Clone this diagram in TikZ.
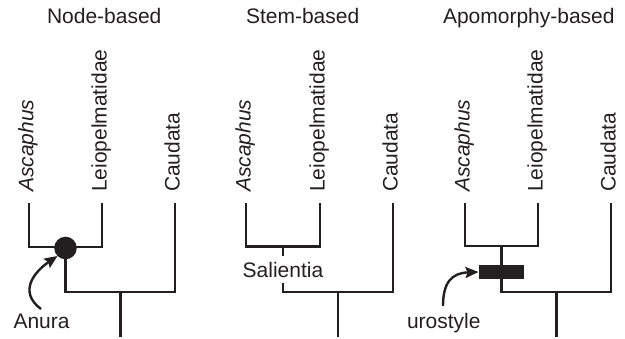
\documentclass[tikz,border=0pt]{standalone}
\usepackage{fontspec}
\setmainfont{Liberation Sans}
\usetikzlibrary{arrows.meta}
\definecolor{ink}{HTML}{231F20}
\begin{document}
\begin{tikzpicture}[x=1pt,y=-1pt,
  every node/.style={inner sep=0pt,outer sep=0pt,font=\fontsize{21}{25}\selectfont,text=ink},
  branch/.style={draw=ink,line width=2.7pt,line join=miter},
  taxon/.style={rotate=90,anchor=base west},
  titletext/.style={anchor=base west},
  pointer/.style={draw=ink,line width=2.4pt,-{Stealth[length=13pt,width=11pt,inset=2pt]}}]
\useasboundingbox (0,0) rectangle (625,339);
% titles
\node[titletext] (t1) at (47,24) {Node-based};
\node[titletext] (t2) at (246,24) {Stem-based};
\node[titletext] (t3) at (443,24) {Apomorphy-based};
% ---------- panel 1 ----------
\node[taxon] (asc1) at (33.5,192) {\itshape Ascaphus};
\node[taxon] (lei1) at (106.5,192) {Leiopelmatidae};
\node[taxon] (cau1) at (179.5,192) {Caudata};
\coordinate (a1t) at (29,203); \coordinate (a1b) at (29,247);
\coordinate (l1t) at (102,203); \coordinate (l1b) at (102,247);
\coordinate (n1) at (65.5,247); \coordinate (n1b) at (65.5,292);
\coordinate (c1t) at (175,203); \coordinate (c1b) at (175,292);
\coordinate (r1t) at (120.5,292); \coordinate (r1b) at (120.5,337);
\draw[branch] (a1t) -- (a1b) -- (l1b) -- (l1t);
\draw[branch] (n1) -- (n1b) -- (c1b) -- (c1t);
\draw[branch] (r1t) -- (r1b);
\node[circle,fill=ink,minimum size=22.6pt] (dot) at (65.5,248) {};
\node[anchor=base west] (anura) at (13.5,329) {Anura};
\coordinate (arr1) at (41,309);
\draw[pointer] (arr1) .. controls (18,292) and (34,272) .. (dot.south west);
% ---------- panel 2 ----------
\node[taxon] (asc2) at (250.5,192) {\itshape Ascaphus};
\node[taxon] (lei2) at (324.5,192) {Leiopelmatidae};
\node[taxon] (cau2) at (397.5,192) {Caudata};
\coordinate (a2t) at (246,203); \coordinate (a2b) at (246,246.5);
\coordinate (l2t) at (320,203); \coordinate (l2b) at (320,246.5);
\coordinate (s2t) at (283,246.5); \coordinate (s2b) at (283,256);
\coordinate (s2c) at (283,283); \coordinate (s2d) at (283,292);
\coordinate (c2t) at (393,203); \coordinate (c2b) at (393,292);
\coordinate (r2t) at (338,292); \coordinate (r2b) at (338,337);
\draw[branch] (a2t) -- (a2b) -- (l2b) -- (l2t);
\draw[branch] (s2t) -- (s2b);
\draw[branch] (s2c) -- (s2d) -- (c2b) -- (c2t);
\draw[branch] (r2t) -- (r2b);
\node[anchor=base] (sal) at (283,277.5) {Salientia};
% ---------- panel 3 ----------
\node[taxon] (asc3) at (469.5,192) {\itshape Ascaphus};
\node[taxon] (lei3) at (542.5,192) {Leiopelmatidae};
\node[taxon] (cau3) at (615.5,192) {Caudata};
\coordinate (a3t) at (465,203); \coordinate (a3b) at (465,246);
\coordinate (l3t) at (538,203); \coordinate (l3b) at (538,246);
\coordinate (n3) at (501.5,246); \coordinate (n3b) at (501.5,292);
\coordinate (c3t) at (611,203); \coordinate (c3b) at (611,292);
\coordinate (r3t) at (556.5,292); \coordinate (r3b) at (556.5,337);
\draw[branch] (a3t) -- (a3b) -- (l3b) -- (l3t);
\draw[branch] (n3) -- (n3b) -- (c3b) -- (c3t);
\draw[branch] (r3t) -- (r3b);
\node[rectangle,fill=ink,minimum width=45pt,minimum height=14.5pt] (bar) at (501,272) {};
\node[anchor=base west] (uro) at (407,329) {urostyle};
\coordinate (arr3) at (443,306);
\draw[pointer] (arr3) .. controls (443,282) and (452,273) .. (bar.west);
\end{tikzpicture}
\end{document}
